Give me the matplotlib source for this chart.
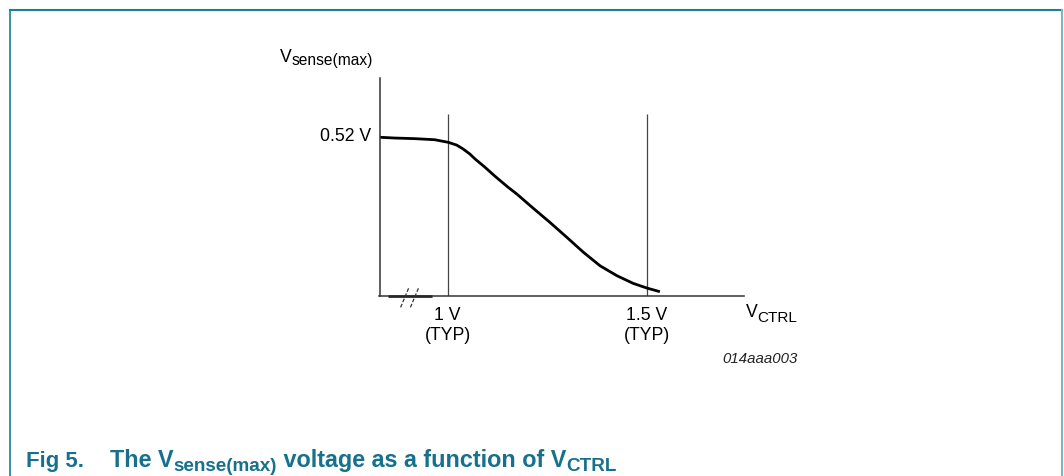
import matplotlib
matplotlib.use("Agg")
import matplotlib.pyplot as plt
from matplotlib.lines import Line2D

plt.rcParams['font.family'] = ['Liberation Sans', 'DejaVu Sans']

# Data
vctrl = [0.830, 0.868, 0.918, 0.968, 1.002, 1.023, 1.039, 1.056, 1.069, 1.094,
         1.119, 1.152, 1.174, 1.215, 1.257, 1.299, 1.341, 1.383, 1.425, 1.466,
         1.500, 1.533]
vsense = [0.5155, 0.513, 0.511, 0.5075, 0.499, 0.490, 0.4775, 0.461, 0.445, 0.418,
          0.389, 0.353, 0.331, 0.285, 0.239, 0.191, 0.142, 0.098, 0.066, 0.041,
          0.026, 0.014]
typ_marks = [1.0, 1.5]
typ_values = ["1 V", "1.5 V"]
typ_note = "(TYP)"
y_tick = 0.52
y_tick_label = "0.52 V"

W, H = 1064, 477
fig = plt.figure(figsize=(W / 100, H / 100), dpi=100)
fig.patch.set_facecolor('white')
renderer = fig.canvas.get_renderer()


def fx(x):
    return x / W


def fy(y):
    return 1 - y / H


def seq_text(x, y, pieces, **common):
    """Place text pieces one after another; pieces: (text, size, dy, extra kw)."""
    for s, size, dy, kw in pieces:
        kwargs = dict(common)
        kwargs.update(kw)
        t = fig.text(fx(x), fy(y + dy), s, fontsize=size, ha='left', va='baseline', **kwargs)
        bb = t.get_window_extent(renderer=renderer)
        x += bb.width
    return x


ax = fig.add_axes([fx(379.5), fy(297), 364 / W, 218 / H])
ax.set_xlim(0.829, 1.743)
ax.set_ylim(0, 0.708)
for s in ['top', 'right']:
    ax.spines[s].set_visible(False)
for s in ['left', 'bottom']:
    ax.spines[s].set_color('#333333')
    ax.spines[s].set_linewidth(1.1)
ax.set_xticks([])
ax.set_yticks([])
ax.patch.set_alpha(0)

# vertical reference lines
for xm in typ_marks:
    ax.plot([xm, xm], [0, 0.59], color='#444444', lw=0.9, solid_capstyle='butt')

ax.plot(vctrl, vsense, color='black', lw=2.0, solid_capstyle='butt', solid_joinstyle='round')

# tick labels
ax.text(-0.022, y_tick, y_tick_label, transform=ax.get_yaxis_transform(),
        ha='right', va='center', fontsize=12.7)
for xm, lab in zip(typ_marks, typ_values):
    ax.text(xm, -23 / 218, lab, transform=ax.get_xaxis_transform(), ha='center',
            va='baseline', fontsize=12.7)
    ax.text(xm, -43 / 218, typ_note, transform=ax.get_xaxis_transform(), ha='center',
            va='baseline', fontsize=12.7)

# axis break marks
bt = ax.transAxes
ax.add_line(Line2D([0.024, 0.145], [0.0, 0.0], transform=bt, color='black', lw=1.8,
                   clip_on=False, solid_capstyle='butt'))
for dx in [0.0, 0.027]:
    ax.add_line(Line2D([0.058 + dx, 0.081 + dx], [-0.052, 0.040], transform=bt,
                       color='#333333', lw=0.9, ls=(0, (3, 1.5)), clip_on=False))

# axis labels
seq_text(280, 62, [("V", 12.7, 0, {}), ("sense(max)", 11.2, 3, {})])
seq_text(746, 317, [("V", 12.7, 0, {}), ("CTRL", 11.0, 5, {})])
fig.text(fx(722), fy(363), "014aaa003", fontsize=10.8, style='italic', ha='left',
         va='baseline', color='#222222')

# caption
cap_col = '#17708c'
fig.text(fx(26), fy(466.7), "Fig 5.", fontsize=16, fontweight='bold', color=cap_col,
         ha='left', va='baseline')
seq_text(110, 466.7, [("The V", 16.8, 0, {}), ("sense(max)", 13.6, 4.5, {}),
                      (" voltage as a function of V", 16.8, 0, {}), ("CTRL", 13.6, 4.5, {})],
         fontweight='bold', color=cap_col)

# frame
fig.add_artist(Line2D([fx(9.5), fx(1062)], [fy(10.5), fy(10.5)], color='#1a7f98', lw=1.5))
fig.add_artist(Line2D([fx(9.5), fx(9.5)], [0, fy(10.5)], color='#1a7f98', lw=1.2))
fig.add_artist(Line2D([fx(1062), fx(1062)], [0, fy(10.5)], color='#7ab8c8', lw=1.5))

fig.savefig('out.png', dpi=100, facecolor='white')
